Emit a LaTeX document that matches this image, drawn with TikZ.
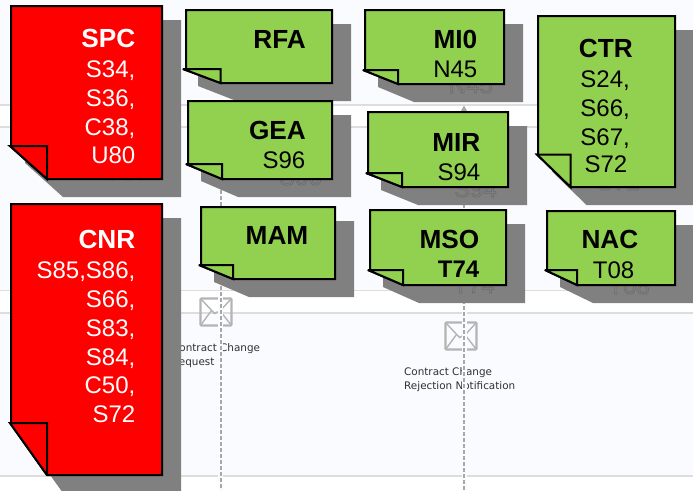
\documentclass[tikz,border=0pt]{standalone}
\usepackage{fontspec}
\setmainfont{Liberation Sans}
\newfontfamily\dejavu{DejaVu Sans}
\definecolor{bgtint}{HTML}{FAFBFE}
\definecolor{bandline}{HTML}{DDDDDD}
\definecolor{notegreen}{HTML}{92D050}
\definecolor{notered}{HTML}{FF0000}
\definecolor{shadowgray}{HTML}{808080}
\definecolor{ghostgray}{HTML}{6A6A6A}
\definecolor{flowgray}{HTML}{A8A8A8}
\definecolor{envgray}{HTML}{B4B4B4}
\definecolor{labeltext}{HTML}{303030}
\tikzset{
  bandrule/.style={draw=bandline,line width=1.5pt},
  flowline/.style={draw=flowgray,line width=2pt,dash pattern=on 3.5pt off 2.5pt},
  flowhalo/.style={draw=bgtint,line width=5pt},
  noteshadow/.style={fill=shadowgray,draw=none},
  noteborder/.style={draw=black,line width=2pt,line join=miter,miter limit=3},
  head/.style={inner sep=0pt,anchor=base east,font=\fontsize{26.2}{29}\selectfont\bfseries},
  boldbody/.style={inner sep=0pt,anchor=base east,font=\fontsize{24}{29}\selectfont\bfseries},
  body/.style={inner sep=0pt,anchor=base east,font=\fontsize{24}{29}\selectfont},
  ghost/.style={inner sep=0pt,anchor=base east,text=ghostgray,font=\fontsize{24}{29}\selectfont},
  msglabel/.style={inner sep=0pt,anchor=base west,text=labeltext,font=\dejavu\fontsize{10.4}{14}\selectfont},
}
% x1 y1 x2 y2 xfold yfold xtip colour
\newcommand{\noteshade}[7]{%
  \fill[noteshadow] (#3,#2+14) -- (#3+19,#2+14) -- (#3+19,#4+18) -- (#5+16,#4+18) -- (#7+15,#6+17) -- (#7+15,#6) -- cycle;}
\newcommand{\notebody}[8]{%
  \path[noteborder,fill=#8] (#1,#2) -- (#3,#2) -- (#3,#4) -- (#5,#4) -- (#7,#6) -- (#1,#6) -- cycle;
  \path[noteborder,fill=#8] (#7,#6) -- (#5,#6) -- (#5,#4) -- cycle;}
\newcommand{\envelope}[2]{%
  \begin{scope}[shift={(#1,#2)}]
    \draw[envgray,line width=2.2pt,rounded corners=1pt] (0,0) rectangle (31,27);
    \draw[envgray,line width=1.4pt] (0,0) -- (14,15) .. controls (15.5,14) and (16.5,13.5) .. (19,13) -- (31,0);
    \draw[envgray,line width=1.4pt] (0,27) -- (11,12);
    \draw[envgray,line width=1.4pt] (31,27) -- (20,13);
  \end{scope}}
\newcommand{\ghosttext}[1]{\special{pdf:code 1 Tr 0.6 w}#1\special{pdf:code 0 Tr}}
\begin{document}
\begin{tikzpicture}[x=1pt,y=-1pt]
\useasboundingbox (0,0) rectangle (693,490);
% background bands
\fill[white] (0,0) rectangle (693,490);
\fill[bgtint] (0,0) rectangle (693,105);
\fill[bgtint] (0,127) rectangle (693,290);
\fill[bgtint] (0,313) rectangle (693,476);
\draw[bandrule] (0,105) -- (693,105);
\draw[bandrule] (0,127) -- (693,127);
\draw[bandrule] (0,290.5) -- (693,290.5);
\draw[bandrule] (0,313) -- (693,313);
\draw[bandrule] (0,476) -- (693,476);
% message icons and labels
\envelope{200.5}{298.5}
\envelope{445.5}{322.5}
\node[msglabel] (l1a) at (172,351) {Contract Change};
\node[msglabel] (l1b) at (172,365) {Request};
\node[msglabel] (l2a) at (404,375) {Contract Change};
\node[msglabel] (l2b) at (404,389) {Rejection Notification};
% life lines
\coordinate (fa) at (220.5,190);
\coordinate (fb) at (220.5,490);
\coordinate (ga) at (464,108);
\coordinate (gb) at (464,490);
\draw[flowhalo] (220.5,292) -- (fb);
\draw[flowhalo] (464,292) -- (gb);
\draw[flowline] (fa) -- (fb);
\draw[flowline] (ga) -- (gb);
\draw[flowgray,line width=1.4pt] (460,114) -- (464,107) -- (468,114);
% shadows
\noteshade{11}{6}{162}{179}{47}{146}{10}
\noteshade{186}{10}{332}{83}{220.5}{69}{183}
\noteshade{188}{101}{332}{179}{222}{164}{186}
\noteshade{201}{207}{335}{279}{233}{265}{199}
\noteshade{365}{10}{504}{84}{398}{70}{363}
\noteshade{368}{112}{508}{187}{402}{173}{366}
\noteshade{538}{16}{675}{187}{570.5}{154.5}{537}
\noteshade{370}{210}{506}{285}{403}{270}{368}
\noteshade{547}{211}{675}{285}{577}{270}{545}
\noteshade{11}{204}{162}{475}{47}{423}{10}
% text showing through the shadows
\node[ghost] (g1) at (148,180) {\ghosttext{U80}};
\node[ghost] (g2) at (322,185) {\ghosttext{S96}};
\node[ghost] (g3) at (493,93) {\ghosttext{N45}};
\node[ghost] (g4) at (497,197) {\ghosttext{S94}};
\node[ghost] (g5) at (640,190) {\ghosttext{S72}};
\node[ghost] (g6) at (495,293) {\ghosttext{T74}};
\node[ghost] (g7) at (650,294) {\ghosttext{T08}};
% notes
\notebody{11}{6}{162}{179}{47}{146}{10}{notered}
\notebody{186}{10}{332}{83}{220.5}{69}{183}{notegreen}
\notebody{188}{101}{332}{179}{222}{164}{186}{notegreen}
\notebody{201}{207}{335}{279}{233}{265}{199}{notegreen}
\notebody{365}{10}{504}{84}{398}{70}{363}{notegreen}
\notebody{368}{112}{508}{187}{402}{173}{366}{notegreen}
\notebody{538}{16}{675}{187}{570.5}{154.5}{537}{notegreen}
\notebody{370}{210}{506}{285}{403}{270}{368}{notegreen}
\notebody{547}{211}{675}{285}{577}{270}{545}{notegreen}
\notebody{11}{204}{162}{475}{47}{423}{10}{notered}
% SPC
\node[head,text=white] (spc) at (135.5,47) {SPC};
\node[body,text=white] (spc1) at (135.5,77) {S34,};
\node[body,text=white] (spc2) at (135.5,106) {S36,};
\node[body,text=white] (spc3) at (135.5,135) {C38,};
\node[body,text=white] (spc4) at (135.5,163) {U80};
% CNR
\node[head,text=white] (cnr) at (135.5,248) {CNR};
\node[body,text=white] (cnr1) at (135.5,278) {S85,S86,};
\node[body,text=white] (cnr2) at (135.5,307) {S66,};
\node[body,text=white] (cnr3) at (135.5,336) {S83,};
\node[body,text=white] (cnr4) at (135.5,365) {S84,};
\node[body,text=white] (cnr5) at (135.5,393) {C50,};
\node[body,text=white] (cnr6) at (135.5,422) {S72};
% green notes
\node[head] (rfa) at (306,48) {RFA};
\node[head] (gea) at (306,139) {GEA};
\node[body] (gea1) at (305.5,168) {S96};
\node[head] (mam) at (308.5,244) {MAM};
\node[head] (mi0) at (477.5,48) {MI0};
\node[body] (mi01) at (477.5,77) {N45};
\node[head] (mir) at (480.5,151) {MIR};
\node[body] (mir1) at (480.5,180) {S94};
\node[head] (mso) at (479.5,248) {MSO};
\node[boldbody] (mso1) at (479.5,277) {T74};
\node[head] (ctr) at (633,57) {CTR};
\node[body] (ctr1) at (630,87) {S24,};
\node[body] (ctr2) at (630,116) {S66,};
\node[body] (ctr3) at (630,145) {S67,};
\node[body] (ctr4) at (627.5,172) {S72};
\node[head] (nac) at (638.5,248) {NAC};
\node[body] (nac1) at (634.5,278) {T08};
\end{tikzpicture}
\end{document}
